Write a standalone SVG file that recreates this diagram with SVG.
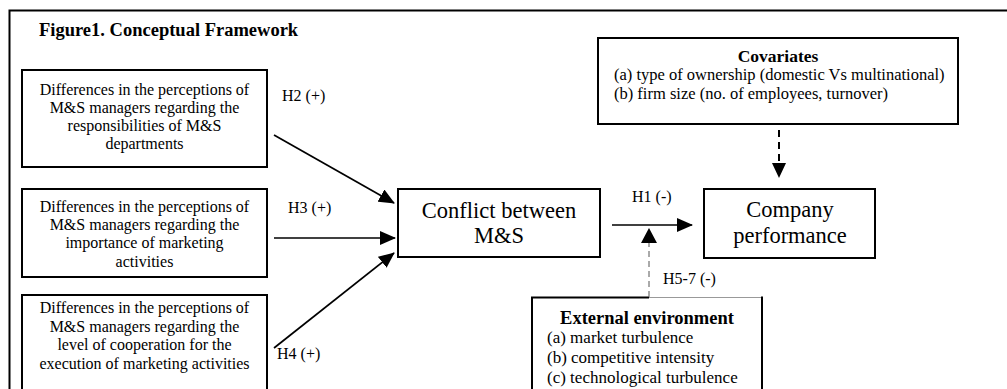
<svg xmlns="http://www.w3.org/2000/svg" width="1007" height="389" viewBox="0 0 1007 389">
<defs>
<style>
text{font-family:"Liberation Serif","Times New Roman",serif;fill:#000}
.box{fill:#fff;stroke:#000;stroke-width:2}
.sm{font-size:16px}
.lb{font-size:16px}
.big{font-size:22.5px}
.b{font-weight:bold}
.ln{stroke:#000;stroke-width:1.7;fill:none}
</style>
<marker id="ah" markerWidth="16" markerHeight="14" refX="15" refY="7" orient="auto" markerUnits="userSpaceOnUse">
<path d="M0,0 L16,7 L0,14 Z" fill="#000"/>
</marker>
</defs>
<rect width="1007" height="389" fill="#fff"/>
<path d="M9.5,389 L9.5,10.5 L1007,10.5" fill="none" stroke="#000" stroke-width="2"/>
<text x="39" y="36" class="b" style="font-size:18.5px">Figure1. Conceptual Framework</text>

<g id="box-h2">
<rect class="box" x="22" y="70" width="245" height="97"/>
<text class="sm" text-anchor="middle" x="144.5" y="95">Differences in the perceptions of</text>
<text class="sm" text-anchor="middle" x="144.5" y="113">M&amp;S managers regarding the</text>
<text class="sm" text-anchor="middle" x="144.5" y="131">responsibilities of M&amp;S</text>
<text class="sm" text-anchor="middle" x="144.5" y="149">departments</text>
</g>
<g id="box-h3">
<rect class="box" x="22" y="189" width="245" height="88"/>
<text class="sm" text-anchor="middle" x="144.5" y="212">Differences in the perceptions of</text>
<text class="sm" text-anchor="middle" x="144.5" y="230">M&amp;S managers regarding the</text>
<text class="sm" text-anchor="middle" x="144.5" y="248">importance of marketing</text>
<text class="sm" text-anchor="middle" x="144.5" y="267">activities</text>
</g>
<g id="box-h4">
<rect class="box" x="22" y="295" width="245" height="110"/>
<text class="sm" text-anchor="middle" x="144.5" y="313">Differences in the perceptions of</text>
<text class="sm" text-anchor="middle" x="144.5" y="332">M&amp;S managers regarding the</text>
<text class="sm" text-anchor="middle" x="144.5" y="350">level of cooperation for the</text>
<text class="sm" text-anchor="middle" x="144.5" y="369">execution of marketing activities</text>
</g>
<g id="conflict">
<rect class="box" x="398" y="189" width="202" height="68"/>
<text class="big" text-anchor="middle" x="499" y="218">Conflict between</text>
<text class="big" text-anchor="middle" x="499" y="243">M&amp;S</text>
</g>
<g id="performance">
<rect class="box" x="704" y="189" width="171" height="69"/>
<text class="big" text-anchor="middle" x="790" y="217">Company</text>
<text class="big" text-anchor="middle" x="790" y="243">performance</text>
</g>
<g id="covariates">
<rect class="box" x="598" y="38" width="360" height="86"/>
<text class="b" style="font-size:17.5px" text-anchor="middle" x="778" y="62">Covariates</text>
<text style="font-size:16.5px" x="614" y="80">(a) type of ownership (domestic Vs multinational)</text>
<text style="font-size:16.5px" x="614" y="99">(b) firm size (no. of employees, turnover)</text>
</g>
<g id="external">
<path d="M532,398 L532,297.5 L649,297.5" fill="none" stroke="#000" stroke-width="2"/>
<path d="M649,297.5 L761,297.5" fill="none" stroke="#999" stroke-width="1"/>
<path d="M762,296.5 L762,398" fill="none" stroke="#000" stroke-width="2"/>
<text class="b" style="font-size:18.5px" text-anchor="middle" x="647" y="324">External environment</text>
<text style="font-size:17px" x="547" y="343">(a) market turbulence</text>
<text style="font-size:17px" x="547" y="363">(b) competitive intensity</text>
<text style="font-size:17px" x="547" y="383">(c) technological turbulence</text>
</g>
<g id="connectors">
<line class="ln" x1="274" y1="135" x2="394" y2="203" marker-end="url(#ah)"/>
<line class="ln" x1="274" y1="238" x2="395" y2="238" marker-end="url(#ah)"/>
<line class="ln" x1="274" y1="348" x2="394" y2="253" marker-end="url(#ah)"/>
<line class="ln" x1="612" y1="225" x2="692" y2="225" marker-end="url(#ah)"/>
<line x1="649" y1="297" x2="649" y2="243" stroke="#555" stroke-width="1" stroke-dasharray="6,4"/>
<path d="M649,228 L657,243 L641,243 Z" fill="#000"/>
<line x1="779" y1="130" x2="779" y2="164" stroke="#000" stroke-width="2" stroke-dasharray="7,5"/>
<path d="M779,178 L772,163 L786,163 Z" fill="#000"/>
<text class="lb" x="282" y="101">H2 (+)</text>
<text class="lb" x="288" y="213">H3 (+)</text>
<text class="lb" x="277" y="359">H4 (+)</text>
<text class="lb" x="632" y="202">H1 (-)</text>
<text class="lb" x="663" y="284">H5-7 (-)</text>
</g>
</svg>
